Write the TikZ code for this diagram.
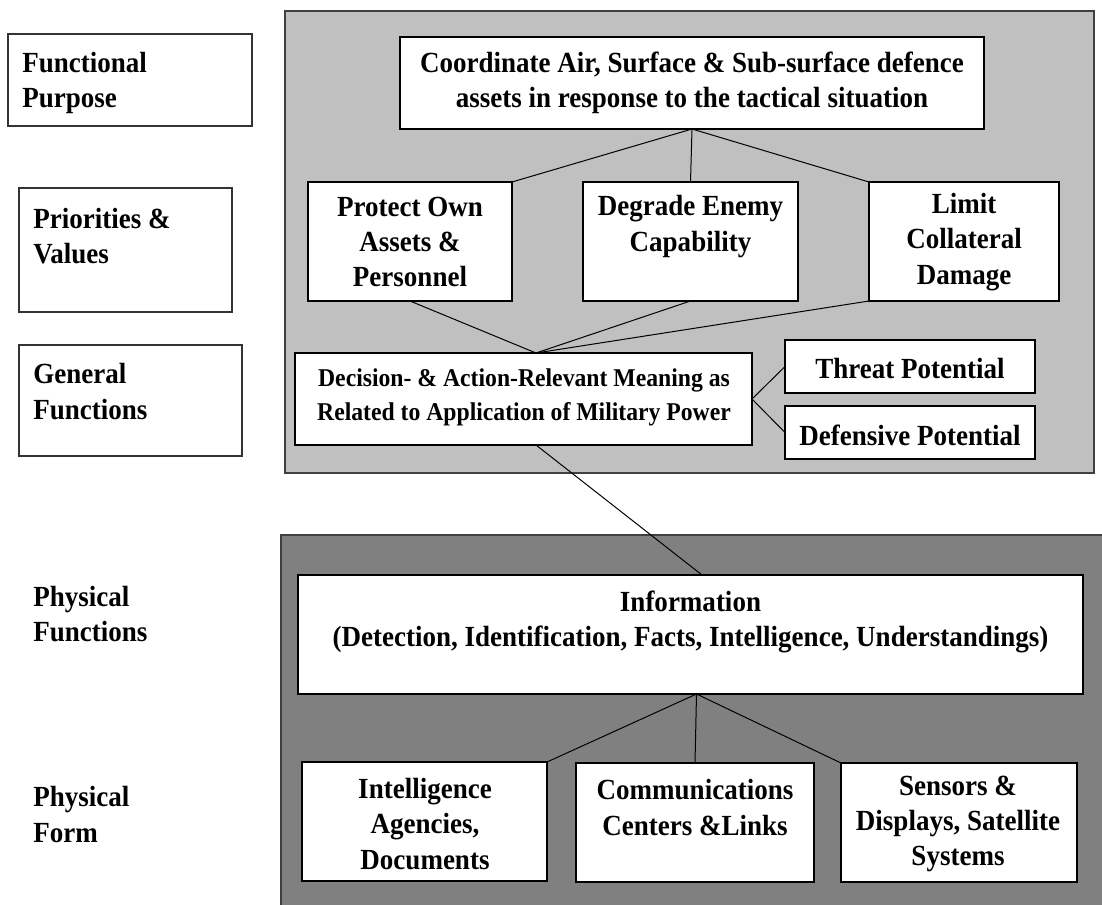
\documentclass[tikz,border=0pt]{standalone}
\usepackage{fontspec}
\setmainfont{Liberation Serif}[FakeStretch=0.925]
\definecolor{lightpanel}{HTML}{C0C0C0}
\definecolor{darkpanel}{HTML}{808080}
\definecolor{panelborder}{HTML}{404040}
\newcommand{\pxbox}[6][]{\node[box,#1,minimum width={(#4-#2)*0.75pt},minimum height={(#6-#3)*0.75pt}] (#5) at ({(#2+#4)/2},{(#3+#6)/2}) {};}
\tikzset{
  box/.style={draw=black,fill=white,line width=1.1pt,inner sep=0pt,outer sep=0pt,rectangle},
  plainbox/.style={draw=black!80,fill=white,line width=0.8pt,inner sep=0pt,outer sep=0pt,rectangle},
  txt/.style={font=\fontsize{21.9}{26.5}\selectfont\bfseries,align=center,inner sep=0pt},
  smalltxt/.style={font=\fontsize{19.2}{26}\selectfont\bfseries,align=center,inner sep=0pt},
  lefttxt/.style={font=\fontsize{21.9}{26.5}\selectfont\bfseries,align=left,anchor=west,inner sep=0pt},
  conn/.style={draw=black,line width=0.75pt},
  panel/.style={draw=panelborder,line width=0.9pt}
}
\begin{document}
\begin{tikzpicture}[x=0.75pt,y=-0.75pt]
\clip (0,0) rectangle (1102,904);
\fill[white] (0,0) rectangle (1102,904);
% panels
\filldraw[panel,fill=lightpanel] (285,11) rectangle (1094,473);
\filldraw[panel,fill=darkpanel] (281,535) rectangle (1112,914);
% left labels
\pxbox[plainbox]{8}{34}{252}{FPbox}{126}
\pxbox[plainbox]{19}{188}{232}{PVbox}{312}
\pxbox[plainbox]{19}{345}{242}{GFbox}{456}
\node[lefttxt] (fp) at (22,83) {Functional\\Purpose};
\node[lefttxt] (pv) at (33,236) {Priorities \&\\Values};
\node[lefttxt] (gf) at (33,391.5) {General\\Functions};
\node[lefttxt] (pf) at (33,614) {Physical\\Functions};
\node[lefttxt] (pform) at (33,814.5) {Physical\\Form};
% boxes
\pxbox{400}{37}{984}{coord}{129}
\pxbox{308}{182}{512}{prot}{301}
\pxbox{583}{182}{798}{degr}{301}
\pxbox{869}{182}{1059}{limit}{301}
\pxbox{295}{353}{752}{dec}{445}
\pxbox{785}{340}{1035}{threat}{393}
\pxbox{785}{406}{1035}{defn}{459}
\pxbox{298}{575}{1083}{info}{694}
\pxbox{302}{762}{547}{intel}{881}
\pxbox{576}{763}{814}{comm}{882}
\pxbox{841}{763}{1077}{sens}{882}
% texts
\node[txt] (coordt) at (692,82.5) {Coordinate Air, Surface \& Sub-surface defence\\assets in response to the tactical situation};
\node[txt] (prott) at (410,242) {Protect Own\\Assets \&\\Personnel};
\node[txt] (degrt) at (690.5,226.5) {Degrade Enemy\\Capability};
\node[txt] (limitt) at (964,242) {Limit\\Collateral\\Damage};
\node[smalltxt] (dect) at (524,397.5) {Decision- \& Action-Relevant Meaning as\\Related to Application of Military Power};
\node[txt] (threatt) at (910,369) {Threat Potential};
\node[txt] (defnt) at (910,435) {Defensive Potential};
\node[txt] (infot) at (690.5,622) {Information\\(Detection, Identification, Facts, Intelligence, Understandings)};
\node[txt] (intelt) at (425,824) {Intelligence\\Agencies,\\Documents};
\node[txt] (commt) at (695,807.5) {Communications\\Centers \&Links};
\node[txt] (senst) at (958,824) {Sensors \&\\Displays, Satellite\\Systems};
% junction coordinates
\coordinate (dectop) at ([xshift=12.5*0.75pt]dec.north);
\coordinate (decbot) at ([xshift=12.5*0.75pt]dec.south);
\coordinate (inftop) at ([xshift=11.5*0.75pt]info.north);
\coordinate (infbot) at ([xshift=6*0.75pt]info.south);
% connectors
\draw[conn] (coord.south) -- (prot.north east);
\draw[conn] (coord.south) -- (degr.north);
\draw[conn] (coord.south) -- (limit.north west);
\draw[conn] (prot.south) -- (dectop);
\draw[conn] (degr.south) -- (dectop);
\draw[conn] (limit.south west) -- (dectop);
\draw[conn] (dec.east) -- (threat.west);
\draw[conn] (dec.east) -- (defn.west);
\draw[conn] (decbot) -- (inftop);
\draw[conn] (infbot) -- (intel.north east);
\draw[conn] (infbot) -- (comm.north);
\draw[conn] (infbot) -- (sens.north west);
\end{tikzpicture}
\end{document}
